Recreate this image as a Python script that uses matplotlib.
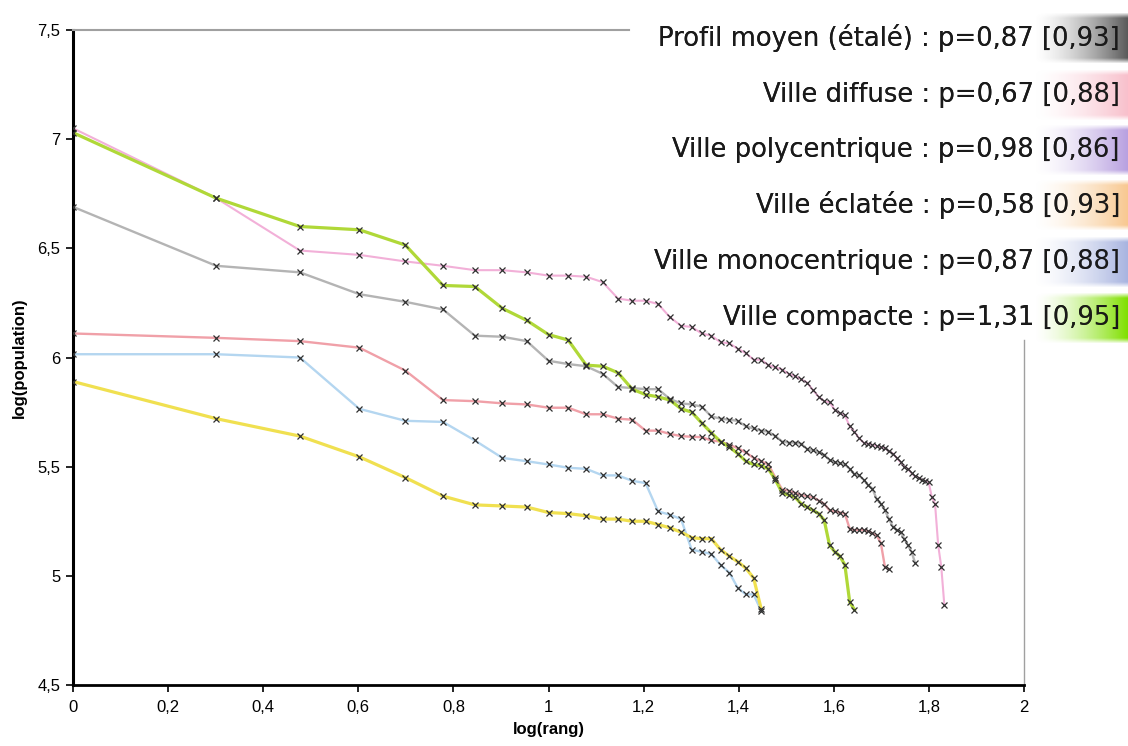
import matplotlib
matplotlib.use("Agg")
import matplotlib.pyplot as plt
from matplotlib.ticker import FuncFormatter, MultipleLocator
import numpy as np

# log(population) by rank (rank = 1..n)
pink = [7.05, 6.73, 6.49, 6.47, 6.44, 6.42, 6.40, 6.40, 6.39, 6.375,
        6.375, 6.37, 6.345, 6.27, 6.26, 6.26, 6.245, 6.185, 6.145, 6.14,
        6.11, 6.10, 6.07, 6.065, 6.04, 6.02, 5.99, 5.99, 5.965, 5.955,
        5.945, 5.925, 5.915, 5.90, 5.885, 5.85, 5.82, 5.80, 5.795, 5.76,
        5.745, 5.735, 5.685, 5.66, 5.63, 5.61, 5.605, 5.60, 5.595, 5.59,
        5.585, 5.57, 5.56, 5.54, 5.52, 5.50, 5.49, 5.47, 5.455, 5.45,
        5.44, 5.435, 5.43, 5.36, 5.33, 5.14, 5.04, 4.865]
green = [7.03, 6.73, 6.60, 6.585, 6.515, 6.33, 6.325, 6.225, 6.17, 6.105,
         6.08, 5.965, 5.96, 5.93, 5.855, 5.83, 5.82, 5.805, 5.765, 5.75,
         5.70, 5.655, 5.615, 5.59, 5.56, 5.525, 5.51, 5.505, 5.49, 5.44,
         5.38, 5.37, 5.36, 5.33, 5.315, 5.30, 5.285, 5.255, 5.14, 5.11,
         5.09, 5.05, 4.88, 4.845]
gray = [6.69, 6.42, 6.39, 6.29, 6.255, 6.22, 6.10, 6.095, 6.075, 5.985,
        5.97, 5.96, 5.925, 5.865, 5.86, 5.855, 5.855, 5.81, 5.79, 5.785,
        5.775, 5.73, 5.72, 5.715, 5.71, 5.685, 5.675, 5.665, 5.66, 5.64,
        5.615, 5.61, 5.61, 5.605, 5.58, 5.575, 5.565, 5.555, 5.53, 5.52,
        5.515, 5.51, 5.49, 5.465, 5.46, 5.44, 5.415, 5.40, 5.35, 5.33,
        5.30, 5.26, 5.225, 5.21, 5.20, 5.17, 5.14, 5.11, 5.06]
red = [6.11, 6.09, 6.075, 6.045, 5.94, 5.805, 5.80, 5.79, 5.785, 5.77,
       5.77, 5.74, 5.74, 5.72, 5.715, 5.665, 5.665, 5.65, 5.64, 5.637,
       5.635, 5.62, 5.615, 5.60, 5.585, 5.565, 5.54, 5.525, 5.51, 5.45,
       5.395, 5.39, 5.38, 5.37, 5.365, 5.36, 5.345, 5.33, 5.30, 5.295,
       5.29, 5.285, 5.215, 5.21, 5.21, 5.21, 5.205, 5.195, 5.185, 5.15,
       5.04, 5.03]
blue = [6.015, 6.015, 6.00, 5.765, 5.71, 5.705, 5.62, 5.54, 5.525, 5.51,
        5.495, 5.49, 5.46, 5.46, 5.435, 5.425, 5.295, 5.28, 5.26, 5.12,
        5.11, 5.10, 5.05, 5.015, 4.945, 4.915, 4.915, 4.84]
yellow = [5.89, 5.72, 5.64, 5.545, 5.45, 5.365, 5.325, 5.32, 5.315, 5.29,
          5.285, 5.275, 5.26, 5.26, 5.25, 5.25, 5.235, 5.22, 5.20, 5.175,
          5.17, 5.17, 5.12, 5.09, 5.065, 5.035, 4.99, 4.85]

series = [
    (gray, "#b4b4b4", 1.7),
    (pink, "#f2b0d8", 1.5),
    (red, "#f0a0a8", 1.7),
    (blue, "#b4d6f0", 1.7),
    (yellow, "#f0e050", 2.3),
    (green, "#b0d838", 2.3),
]

legend_labels = [
    "Profil moyen (étalé) : p=0,87 [0,93]",
    "Ville diffuse : p=0,67 [0,88]",
    "Ville polycentrique : p=0,98 [0,86]",
    "Ville éclatée : p=0,58 [0,93]",
    "Ville monocentrique : p=0,87 [0,88]",
    "Ville compacte : p=1,31 [0,95]",
]
legend_colors = ["#5a5a5a", "#f8c0cc", "#b8a0e0", "#f8c890", "#a8b4e0", "#80e000"]

W, H = 1128, 746
fig = plt.figure(figsize=(W / 100, H / 100), dpi=100)
ax = fig.add_axes([73 / W, 1 - 685 / H, (1024 - 73) / W, (685 - 30) / H])

for vals, col, lw in series:
    x = np.log10(np.arange(1, len(vals) + 1))
    ax.plot(x, vals, color=col, lw=lw, zorder=2)
    ax.plot(x, vals, ls="none", marker="x", ms=4.5, mew=0.9, color="#303030", zorder=3)

ax.set_xlim(0, 2)
ax.set_ylim(4.5, 7.5)
ax.xaxis.set_major_locator(MultipleLocator(0.2))
ax.yaxis.set_major_locator(MultipleLocator(0.5))
fmt = FuncFormatter(lambda v, p: ("%g" % round(v, 2)).replace(".", ","))
ax.xaxis.set_major_formatter(fmt)
ax.yaxis.set_major_formatter(fmt)

narrow = "Liberation Sans"
ax.tick_params(direction="out", length=5, width=1.2, color="black", pad=4,
               labelsize=12, labelfontfamily=narrow)
ax.tick_params(axis="x", pad=6)

ax.spines["left"].set_linewidth(2.2)
ax.spines["bottom"].set_linewidth(2.0)
ax.spines["top"].set_color("#a0a0a0")
ax.spines["top"].set_linewidth(1.5)
ax.spines["top"].set_bounds(0, 1.17)       # hidden behind the legend block
ax.spines["right"].set_color("#a0a0a0")
ax.spines["right"].set_linewidth(1.0)
ax.spines["right"].set_bounds(4.5, 6.08)

ax.set_xlabel("log(rang)", family=narrow, fontsize=12, fontweight="bold", labelpad=5)
ax.set_ylabel("log(population)", family=narrow, fontsize=12, fontweight="bold", labelpad=8)

# legend block: white boxes, colour gradients, then the text on top
ov = fig.add_axes([0, 0, 1, 1], zorder=5)
ov.axis("off")
row_y = [38, 95, 150, 205, 262, 318]
fs = 18.6
for i, (txt, col) in enumerate(zip(legend_labels, legend_colors)):
    yc = row_y[i]
    ov.text(1120, yc, txt, ha="right", va="center", fontsize=fs, color="#1a1a1a",
            family="DejaVu Sans",
            bbox=dict(boxstyle="square,pad=0.12", fc="white", ec="none"), zorder=1)
    gw, gh = 95, 52
    rgb = np.array(matplotlib.colors.to_rgb(col))
    img = np.zeros((gh, gw, 4))
    img[..., :3] = rgb
    xr = np.linspace(0, 1, gw) ** 1.5
    yr = np.clip(np.sin(np.linspace(0, np.pi, gh)) * 3.0, 0, 1)
    img[..., 3] = np.outer(yr, xr)
    ov.imshow(img, extent=(W - gw, W, yc + gh / 2, yc - gh / 2), aspect="auto", zorder=2)
    ov.text(1120, yc, txt, ha="right", va="center", fontsize=fs, color="#1a1a1a",
            family="DejaVu Sans", zorder=3)
ov.set_xlim(0, W)
ov.set_ylim(H, 0)

fig.savefig("out.png", dpi=100)
